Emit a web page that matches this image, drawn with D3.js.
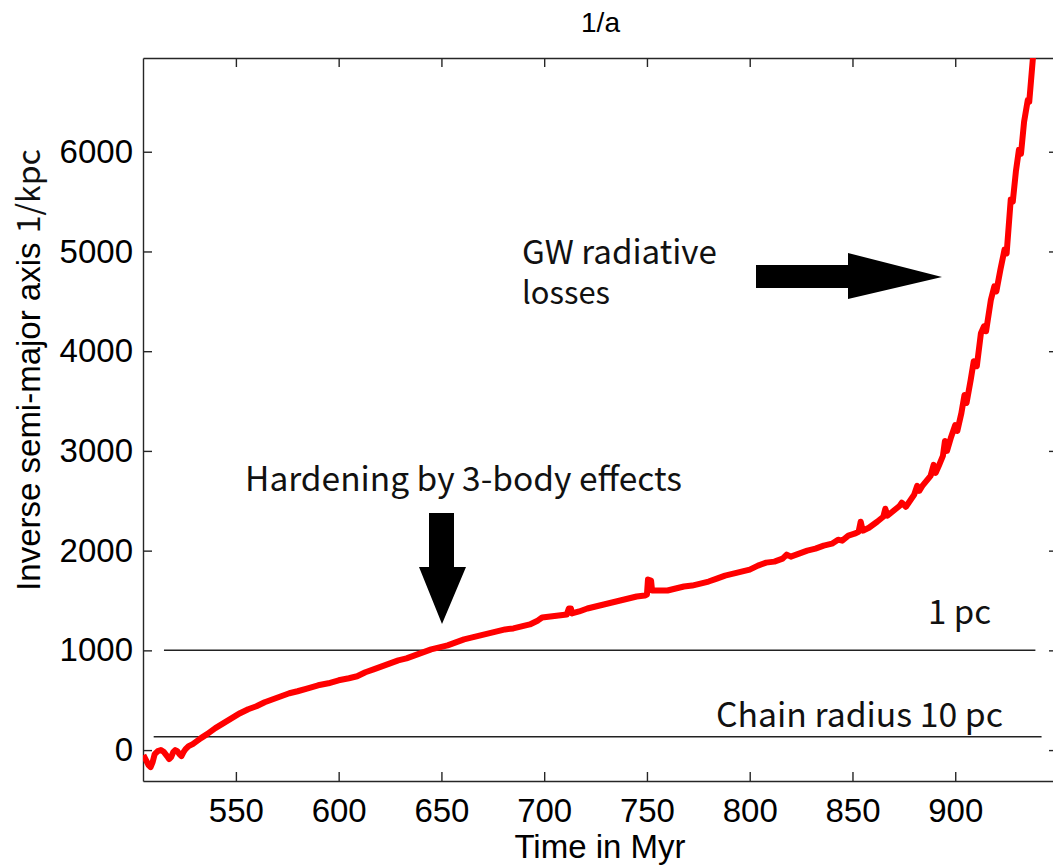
<!DOCTYPE html>
<html>
<head>
<meta charset="utf-8">
<script src="https://cdn.jsdelivr.net/npm/d3@7"></script>
<style>
  body { margin: 0; background: #fff; }
  svg { display: block; }
  .axis path, .axis line { stroke: #262626; stroke-width: 1.4px; }
  .axis text { font-family: "Liberation Sans", Arial, sans-serif; font-size: 33px; fill: #000; }
  .note { font-family: "Noto Sans CJK JP", "Noto Sans", sans-serif; fill: #111; }
</style>
</head>
<body>
<svg id="chart" width="1053" height="866"></svg>
<script>
// time (Myr) and inverse semi-major axis (1/kpc)
var times = [505, 506, 507.5, 508.5, 509.5, 510.5, 512, 513.5, 515, 516.5, 517.5, 518.5, 519.5, 520.5,
  521.5, 522.5, 523.5, 524.5, 525.5, 527, 529, 531, 533, 536, 540, 544, 548, 552, 556, 560, 564,
  568, 572, 576, 580, 585, 590, 595, 600, 605, 609, 613, 617, 621, 625, 629, 633, 637, 641, 645,
  649, 653, 657, 661, 665, 669, 673, 677, 681, 685, 689, 693, 697, 699, 703, 707, 711, 712, 713,
  713.5, 717, 721, 725, 729, 733, 737, 741, 745, 749, 750, 750.5, 752, 752.5, 756, 760, 764, 768,
  772, 776, 780, 784, 788, 792, 796, 800, 804, 808, 812, 816, 818, 820, 824, 828, 832, 836, 840,
  843, 845, 848, 851, 853, 854, 855, 858, 862, 865, 866, 867, 870, 873, 874, 876, 878, 880, 881.5,
  882.5, 884, 886, 888, 889.5, 890.5, 892, 894, 895, 896, 898, 900, 901, 903, 904.5, 905.5, 907.5,
  909, 910.5, 912.5, 914, 915, 917.3, 919, 920, 922, 924, 925, 927, 928, 929.5, 931, 932, 933.5,
  935.3, 936, 937.8, 938.5];
var invA = [-50, -90, -150, -170, -120, -40, -10, 0, -20, -60, -90, -70, -20, 0,
  -10, -40, -60, -20, 10, 40, 60, 90, 120, 160, 220, 270, 320, 370, 410, 440, 480,
  510, 540, 570, 590, 620, 650, 670, 700, 720, 740, 780, 810, 840, 870, 900, 920, 950, 980, 1010,
  1030, 1050, 1080, 1110, 1130, 1150, 1170, 1190, 1210, 1220, 1240, 1260, 1300, 1330, 1340, 1350, 1360, 1420, 1420,
  1370, 1390, 1420, 1440, 1460, 1480, 1500, 1520, 1540, 1550, 1560, 1710, 1700, 1600, 1600, 1600, 1620, 1640,
  1650, 1670, 1690, 1720, 1750, 1770, 1790, 1810, 1850, 1880, 1890, 1920, 1960, 1940, 1970, 2000, 2020, 2050, 2070,
  2110, 2100, 2150, 2170, 2190, 2290, 2200, 2230, 2290, 2340, 2420, 2350, 2400, 2450, 2480, 2440, 2500, 2560, 2650,
  2600, 2650, 2700, 2750, 2860, 2780, 2850, 2950, 3100, 3000, 3140, 3260, 3200, 3380, 3560, 3480, 3710,
  3900, 3850, 4180, 4250, 4200, 4510, 4650, 4600, 4820, 5020, 4980, 5520, 5500, 5800, 6020, 5980, 6300,
  6520, 6500, 6940, 7100];

// reference levels: 1 pc and chain radius 10 pc
var refLevels = [1000, 133];
var refStart = [515, 510];
var refEnd = [939, 942];

var xTicks = [550, 600, 650, 700, 750, 800, 850, 900];
var yTicks = [0, 1000, 2000, 3000, 4000, 5000, 6000];

var svg = d3.select("#chart");
var pLeft = 143, pRight = 1058, pTop = 58, pBottom = 781;

var x = d3.scaleLinear().domain([504.8, 950]).range([pLeft, pRight]);
var y = d3.scaleLinear().domain([-310, 6940]).range([pBottom, pTop]);

svg.append("defs").append("clipPath").attr("id", "plotclip")
  .append("rect").attr("x", pLeft).attr("y", pTop).attr("width", pRight - pLeft).attr("height", pBottom - pTop);

// axes, ticks pointing inward on all four sides
svg.append("g").attr("class", "axis")
  .attr("transform", "translate(0," + pBottom + ")")
  .call(d3.axisBottom(x).tickValues(xTicks).tickSizeInner(-9).tickSizeOuter(0).tickPadding(18).tickFormat(d3.format("d")));
svg.append("g").attr("class", "axis")
  .attr("transform", "translate(0," + pTop + ")")
  .call(d3.axisTop(x).tickValues(xTicks).tickSizeInner(-9).tickSizeOuter(0).tickFormat(""));
svg.append("g").attr("class", "axis")
  .attr("transform", "translate(" + pLeft + ",0)")
  .call(d3.axisLeft(y).tickValues(yTicks).tickSizeInner(-9).tickSizeOuter(0).tickPadding(10).tickFormat(d3.format("d")));
svg.append("g").attr("class", "axis")
  .attr("transform", "translate(" + pRight + ",0)")
  .call(d3.axisRight(y).tickValues(yTicks).tickSizeInner(-9).tickSizeOuter(0).tickFormat(""));

// reference lines
refLevels.forEach(function(v, i) {
  svg.append("line")
    .attr("x1", x(refStart[i])).attr("x2", x(refEnd[i]))
    .attr("y1", y(v)).attr("y2", y(v))
    .attr("stroke", "#222").attr("stroke-width", 1.5);
});

// the curve
var pts = times.map(function(t, i) { return [t, invA[i]]; });
svg.append("path")
  .datum(pts)
  .attr("clip-path", "url(#plotclip)")
  .attr("fill", "none")
  .attr("stroke", "#ff0000")
  .attr("stroke-width", 6)
  .attr("stroke-linejoin", "round")
  .attr("d", d3.line().x(function(d) { return x(d[0]); }).y(function(d) { return y(d[1]); }));

// title and axis labels
svg.append("text")
  .attr("x", (pLeft + pRight) / 2).attr("y", 32)
  .attr("text-anchor", "middle")
  .style("font-family", "Liberation Sans, Arial, sans-serif").style("font-size", "28px")
  .text("1/a");

svg.append("text")
  .attr("x", 600).attr("y", 858)
  .attr("text-anchor", "middle")
  .style("font-family", "Liberation Sans, Arial, sans-serif").style("font-size", "33px")
  .text("Time in Myr");

var yl = svg.append("text")
  .attr("transform", "translate(40,370) rotate(-90)")
  .attr("text-anchor", "middle")
  .style("font-family", "Liberation Sans, Arial, sans-serif").style("font-size", "33px");
yl.append("tspan").text("Inverse semi-major axis ");
yl.append("tspan").attr("class", "note").style("font-size", "32px").text(" 1/kpc");

// annotations, sized to their width in the picture
function note(txt, x0, base, w) {
  var t = svg.append("text").attr("class", "note")
    .attr("x", x0).attr("y", base).style("font-size", "29px").text(txt);
  var len = t.node().getComputedTextLength();
  t.style("font-size", (29 * w / len) + "px");
  return t;
}
note("Hardening by 3-body effects", 245, 491, 437);
note("GW radiative", 522, 264, 195);
note("losses", 522, 304, 88);
note("1 pc", 928, 624, 63);
note("Chain radius 10 pc", 716, 727, 287);

// arrows
svg.append("path")
  .attr("d", "M429,513 L454,513 L454,567 L466,567 L442,624 L419,567 L429,567 Z")
  .attr("fill", "#000");
svg.append("path")
  .attr("d", "M756,265 L848,265 L848,253 L942,277 L848,299 L848,288 L756,288 Z")
  .attr("fill", "#000");
</script>
</body>
</html>
